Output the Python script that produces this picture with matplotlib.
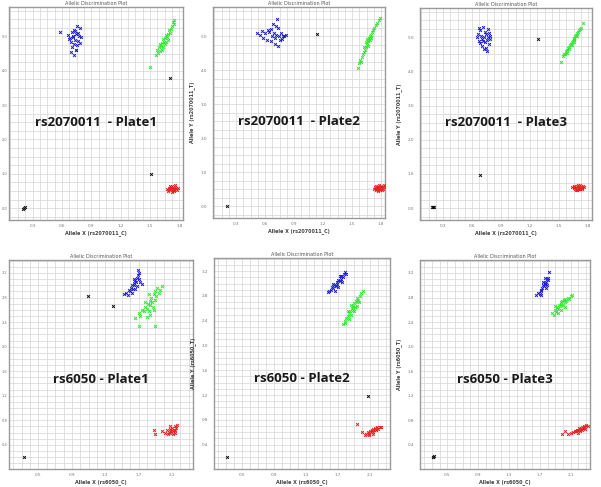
import numpy as np
import matplotlib
matplotlib.use("Agg")
import matplotlib.pyplot as plt
from matplotlib.ticker import MultipleLocator

# --- data (Allele X, Allele Y) ---
snps = ["rs2070011", "rs6050"]
plates = ["Plate1", "Plate2", "Plate3"]
top_xticks = [0.3, 0.6, 0.9, 1.2, 1.5, 1.8]
top_yticks = [0.0, 1.0, 2.0, 3.0, 4.0, 5.0]
bot_xticks = [0.5, 0.9, 1.3, 1.7, 2.1]
bot_yticks = [0.4, 0.8, 1.2, 1.6, 2.0, 2.4, 2.8, 3.2]

p1_blue = [(0.66,5.05),(0.70,5.12),(0.72,5.20),(0.75,5.30),(0.78,5.25),(0.68,4.95),(0.71,5.00),
           (0.74,5.08),(0.77,5.02),(0.80,4.98),(0.69,4.85),(0.73,4.90),(0.76,4.88),(0.72,4.78),
           (0.75,4.75),(0.70,4.70),(0.74,4.62),(0.78,4.82),(0.67,4.92),(0.71,4.98),(0.73,5.15),
           (0.76,5.10),(0.69,4.55),(0.72,4.45),(0.74,4.60),(0.585,5.12)]
p1_green = [(1.56,4.45),(1.58,4.52),(1.57,4.60),(1.60,4.58),(1.59,4.68),(1.61,4.72),(1.63,4.70),
            (1.62,4.80),(1.64,4.85),(1.66,4.84),(1.63,4.92),(1.65,4.95),(1.67,4.98),(1.66,5.05),
            (1.68,5.08),(1.70,5.10),(1.69,5.18),(1.71,5.22),(1.72,5.30),(1.74,5.35),(1.73,5.42),
            (1.745,5.48),(1.62,4.62),(1.65,4.78),(1.68,4.90),(1.60,4.78),(1.495,4.10)]
p1_red = [(1.67,0.55),(1.69,0.60),(1.70,0.52),(1.71,0.58),(1.72,0.63),(1.73,0.54),(1.74,0.60),
          (1.75,0.56),(1.76,0.62),(1.77,0.58),(1.78,0.53),(1.72,0.48),(1.74,0.50),(1.76,0.66),
          (1.70,0.64),(1.79,0.60),(1.73,0.57),(1.75,0.52),(1.68,0.50),(1.71,0.55)]
p1_black = [(1.70,3.78),(1.505,0.99),(0.20,-0.02),(0.21,0.01),(0.22,0.02)]

p2_blue = [(0.52,5.10),(0.55,5.05),(0.57,5.15),(0.58,4.95),(0.60,5.08),(0.62,4.90),(0.64,5.12),
           (0.66,5.20),(0.67,5.00),(0.68,5.35),(0.69,5.10),(0.70,4.95),(0.71,5.05),(0.72,5.50),
           (0.73,5.25),(0.74,5.00),(0.75,4.88),(0.76,5.08),(0.78,5.02),(0.80,5.00),(0.82,5.05),
           (0.70,4.78),(0.66,4.85),(0.73,4.70),(0.63,5.18),(0.77,4.92),(0.71,5.30)]
p2_green = [(1.56,4.08),(1.57,4.20),(1.58,4.30),(1.59,4.25),(1.60,4.40),(1.61,4.48),(1.62,4.55),
            (1.63,4.60),(1.64,4.68),(1.65,4.75),(1.66,4.80),(1.67,4.85),(1.66,4.92),(1.68,4.95),
            (1.69,5.00),(1.70,5.05),(1.71,5.12),(1.72,5.18),(1.73,5.25),(1.75,5.32),(1.76,5.40),
            (1.78,5.48),(1.79,5.53),(1.64,4.82),(1.67,4.72),(1.69,4.88),(1.62,4.68),(1.70,4.95)]
p2_red = [(1.73,0.50),(1.74,0.56),(1.75,0.48),(1.76,0.54),(1.77,0.58),(1.78,0.50),(1.79,0.55),
          (1.80,0.60),(1.81,0.53),(1.82,0.57),(1.83,0.62),(1.84,0.58),(1.77,0.45),(1.79,0.47),
          (1.81,0.48),(1.75,0.60),(1.78,0.62),(1.80,0.52),(1.76,0.50),(1.82,0.50)]
p2_black = [(1.136,5.06),(0.205,0.0)]

p3_blue = [(0.65,5.00),(0.66,5.10),(0.67,4.90),(0.68,5.20),(0.69,5.05),(0.70,4.95),(0.71,5.30),
           (0.72,5.00),(0.73,4.85),(0.74,5.10),(0.75,4.92),(0.76,5.00),(0.77,4.80),(0.78,5.05),
           (0.79,4.95),(0.70,4.75),(0.72,4.65),(0.74,4.70),(0.68,4.82),(0.76,5.25),(0.73,5.15),
           (0.71,4.88),(0.75,4.60),(0.67,5.28),(0.77,5.12)]
p3_green = [(1.52,4.27),(1.54,4.45),(1.55,4.52),(1.56,4.50),(1.57,4.60),(1.58,4.62),(1.59,4.68),
            (1.60,4.72),(1.61,4.78),(1.62,4.80),(1.63,4.86),(1.64,4.90),(1.65,4.95),(1.66,4.98),
            (1.67,5.05),(1.68,5.08),(1.69,5.12),(1.70,5.16),(1.71,5.20),(1.72,5.24),(1.73,5.28),
            (1.75,5.41),(1.60,4.65),(1.63,4.78),(1.66,4.92),(1.69,5.05),(1.58,4.55),(1.65,4.85)]
p3_red = [(1.63,0.62),(1.65,0.58),(1.66,0.63),(1.67,0.56),(1.68,0.60),(1.69,0.65),(1.70,0.58),
          (1.71,0.62),(1.72,0.55),(1.73,0.63),(1.74,0.60),(1.75,0.66),(1.76,0.62),(1.68,0.54),
          (1.70,0.67),(1.72,0.68),(1.74,0.55),(1.66,0.66),(1.69,0.52),(1.71,0.57)]
p3_black = [(1.28,4.94),(0.68,0.97),(0.18,0.02),(0.19,0.03),(0.20,0.04),(0.21,0.03)]

p4_blue = [(1.52,2.86),(1.55,2.88),(1.57,2.84),(1.58,2.92),(1.60,2.90),(1.61,2.96),(1.62,3.00),
           (1.63,2.94),(1.64,3.04),(1.65,3.00),(1.66,3.08),(1.67,3.05),(1.68,3.12),(1.69,3.16),
           (1.70,3.10),(1.71,3.20),(1.69,3.24),(1.72,3.06),(1.74,3.02),(1.62,2.88),(1.66,2.94),
           (1.68,2.98),(1.64,3.10)]
p4_green = [(1.70,2.55),(1.72,2.50),(1.74,2.60),(1.76,2.58),(1.78,2.65),(1.80,2.62),(1.81,2.70),
            (1.82,2.58),(1.83,2.75),(1.84,2.68),(1.85,2.80),(1.86,2.72),(1.87,2.64),(1.88,2.85),
            (1.89,2.76),(1.90,2.90),(1.91,2.82),(1.92,2.95),(1.94,2.88),(1.96,2.92),(1.98,2.98),
            (1.80,2.48),(1.84,2.52),(1.88,2.60),(1.66,2.46),(1.71,2.34),(1.89,2.34),(1.78,2.72),
            (1.82,2.85)]
p4_red = [(1.98,0.62),(2.02,0.60),(2.04,0.64),(2.06,0.61),(2.07,0.66),(2.08,0.60),(2.09,0.63),
          (2.10,0.67),(2.11,0.62),(2.12,0.65),(2.13,0.70),(2.14,0.64),(2.15,0.68),(2.16,0.72),
          (2.05,0.58),(2.11,0.58),(2.13,0.60),(1.88,0.64),(1.90,0.57),(2.08,0.70)]
p4_black = [(1.09,2.82),(1.39,2.66),(0.325,0.21)]

p5_blue = [(1.57,2.86),(1.59,2.88),(1.61,2.90),(1.62,2.94),(1.64,2.92),(1.65,2.98),(1.67,2.96),
           (1.68,3.02),(1.69,3.00),(1.70,3.05),(1.72,3.04),(1.73,3.08),(1.74,3.12),(1.76,3.10),
           (1.77,3.15),(1.79,3.18),(1.80,3.16),(1.66,2.88),(1.70,2.95),(1.75,3.02),(1.63,2.99),
           (1.72,3.12)]
p5_green = [(1.76,2.34),(1.78,2.40),(1.79,2.36),(1.80,2.45),(1.82,2.48),(1.83,2.42),(1.84,2.52),
            (1.85,2.56),(1.86,2.50),(1.87,2.60),(1.88,2.64),(1.89,2.58),(1.90,2.68),(1.91,2.62),
            (1.92,2.72),(1.93,2.70),(1.94,2.76),(1.95,2.74),(1.97,2.80),(1.99,2.84),(2.01,2.88),
            (1.86,2.66),(1.90,2.55),(1.94,2.64),(1.82,2.56),(1.96,2.70)]
p5_red = [(2.03,0.56),(2.05,0.58),(2.07,0.60),(2.08,0.57),(2.10,0.62),(2.11,0.60),(2.12,0.64),
          (2.13,0.61),(2.14,0.66),(2.15,0.63),(2.16,0.67),(2.17,0.64),(2.18,0.68),(2.20,0.66),
          (2.22,0.69),(2.24,0.68),(2.09,0.55),(2.13,0.58),(1.93,0.74),(2.00,0.60)]
p5_black = [(2.07,1.18),(0.31,0.205)]

p6_blue = [(1.65,2.84),(1.68,2.88),(1.70,2.86),(1.71,2.92),(1.72,2.90),(1.73,2.96),(1.74,3.00),
           (1.75,2.98),(1.76,3.04),(1.77,3.02),(1.78,3.06),(1.79,3.10),(1.80,3.08),(1.81,3.12),
           (1.82,3.22),(1.76,3.12),(1.79,3.00),(1.74,3.06),(1.78,2.96),(1.72,2.84)]
p6_green = [(1.86,2.55),(1.88,2.52),(1.90,2.60),(1.91,2.56),(1.92,2.64),(1.94,2.62),(1.95,2.68),
            (1.96,2.66),(1.97,2.72),(1.98,2.70),(1.99,2.74),(2.00,2.68),(2.01,2.76),(2.02,2.72),
            (2.03,2.78),(2.04,2.74),(2.06,2.80),(2.08,2.78),(2.10,2.82),(2.12,2.84),(1.94,2.55),
            (1.98,2.60),(2.02,2.64),(1.89,2.66)]
p6_red = [(2.06,0.58),(2.10,0.60),(2.13,0.61),(2.15,0.63),(2.17,0.62),(2.18,0.65),(2.20,0.64),
          (2.21,0.67),(2.22,0.63),(2.23,0.66),(2.24,0.69),(2.25,0.65),(2.26,0.68),(2.27,0.71),
          (2.28,0.66),(2.29,0.69),(2.30,0.72),(2.32,0.70),(2.19,0.60),(1.99,0.57),(2.02,0.62)]
p6_black = [(0.31,0.21),(0.32,0.20),(0.33,0.22)]

panels = [
    (p1_blue, p1_green, p1_red, p1_black),
    (p2_blue, p2_green, p2_red, p2_black),
    (p3_blue, p3_green, p3_red, p3_black),
    (p4_blue, p4_green, p4_red, p4_black),
    (p5_blue, p5_green, p5_red, p5_black),
    (p6_blue, p6_green, p6_red, p6_black),
]

# axes rectangles in figure fraction (left, bottom, width, height)
rects = [
    (0.0150, 0.548, 0.290, 0.437),
    (0.3544, 0.552, 0.286, 0.433),
    (0.6988, 0.548, 0.286, 0.435),
    (0.0150, 0.036, 0.306, 0.430),
    (0.3561, 0.036, 0.293, 0.434),
    (0.6988, 0.036, 0.283, 0.430),
]

colors = ["#1c1cd0", "#2ee82e", "#e82020", "#111111"]


def draw_panel(ax, clusters, snp, plate, top, first_col):
    for pts, c in zip(clusters, colors):
        pts = np.array(pts)
        ax.scatter(pts[:, 0], pts[:, 1], s=4, marker="x", color=c, linewidths=0.7, zorder=3)

    if top:
        ax.set_xlim(0.06, 1.84)
        ax.set_ylim(-0.35, 5.85)
        ax.set_xticks(top_xticks)
        ax.set_yticks(top_yticks)
        ax.xaxis.set_minor_locator(MultipleLocator(0.075))
        ax.yaxis.set_minor_locator(MultipleLocator(0.25))
        ax.set_xticklabels([f"{v:.1f}" for v in top_xticks])
        ax.set_yticklabels([f"{v:.1f}" for v in top_yticks])
    else:
        ax.set_xlim(0.147, 2.35)
        ax.set_ylim(0.0, 3.41)
        ax.set_xticks(bot_xticks)
        ax.set_yticks(bot_yticks)
        ax.xaxis.set_minor_locator(MultipleLocator(0.1))
        ax.yaxis.set_minor_locator(MultipleLocator(0.1))
        ax.set_xticklabels([f"{v:.1f}" for v in bot_xticks])
        ax.set_yticklabels([f"{v:.1f}" for v in bot_yticks])

    ax.grid(which="both", color="#d4d4d4", linewidth=0.5, zorder=0)
    ax.set_axisbelow(True)
    ax.tick_params(which="both", length=0, labelsize=3, labelcolor="#777777", pad=4)
    ax.tick_params(axis="x", pad=2.5)
    if first_col:
        ax.tick_params(axis="y", pad=1, labelsize=2.6)
    for s in ax.spines.values():
        s.set_color("#9a9a9a")
        s.set_linewidth(1.0)

    ax.set_title("Allelic Discrimination Plot", fontsize=3.5, color="#555555", pad=1.5)
    ax.set_xlabel(f"Allele X ({snp}_C)", fontsize=3.5, color="#444444", labelpad=1.5, fontweight="bold")
    # the first column's y label is cropped off in the reference
    if not first_col:
        ax.set_ylabel(f"Allele Y ({snp}_T)", fontsize=3.5, color="#444444", labelpad=4,
                      fontweight="bold")

    sep = "  - " if top else " - "
    ax.text(0.5, 0.46 if top else 0.43, f"{snp}{sep}{plate}", transform=ax.transAxes,
            ha="center", va="center", fontsize=9.5, fontweight="bold", color="#1a1a1a",
            family="Open Sans", zorder=5)


fig = plt.figure(figsize=(6.01, 4.87), dpi=100)
for i, (rect, clusters) in enumerate(zip(rects, panels)):
    ax = fig.add_axes(rect)
    draw_panel(ax, clusters, snps[i // 3], plates[i % 3], i < 3, i % 3 == 0)

fig.savefig("out.png", dpi=100, facecolor="white")
